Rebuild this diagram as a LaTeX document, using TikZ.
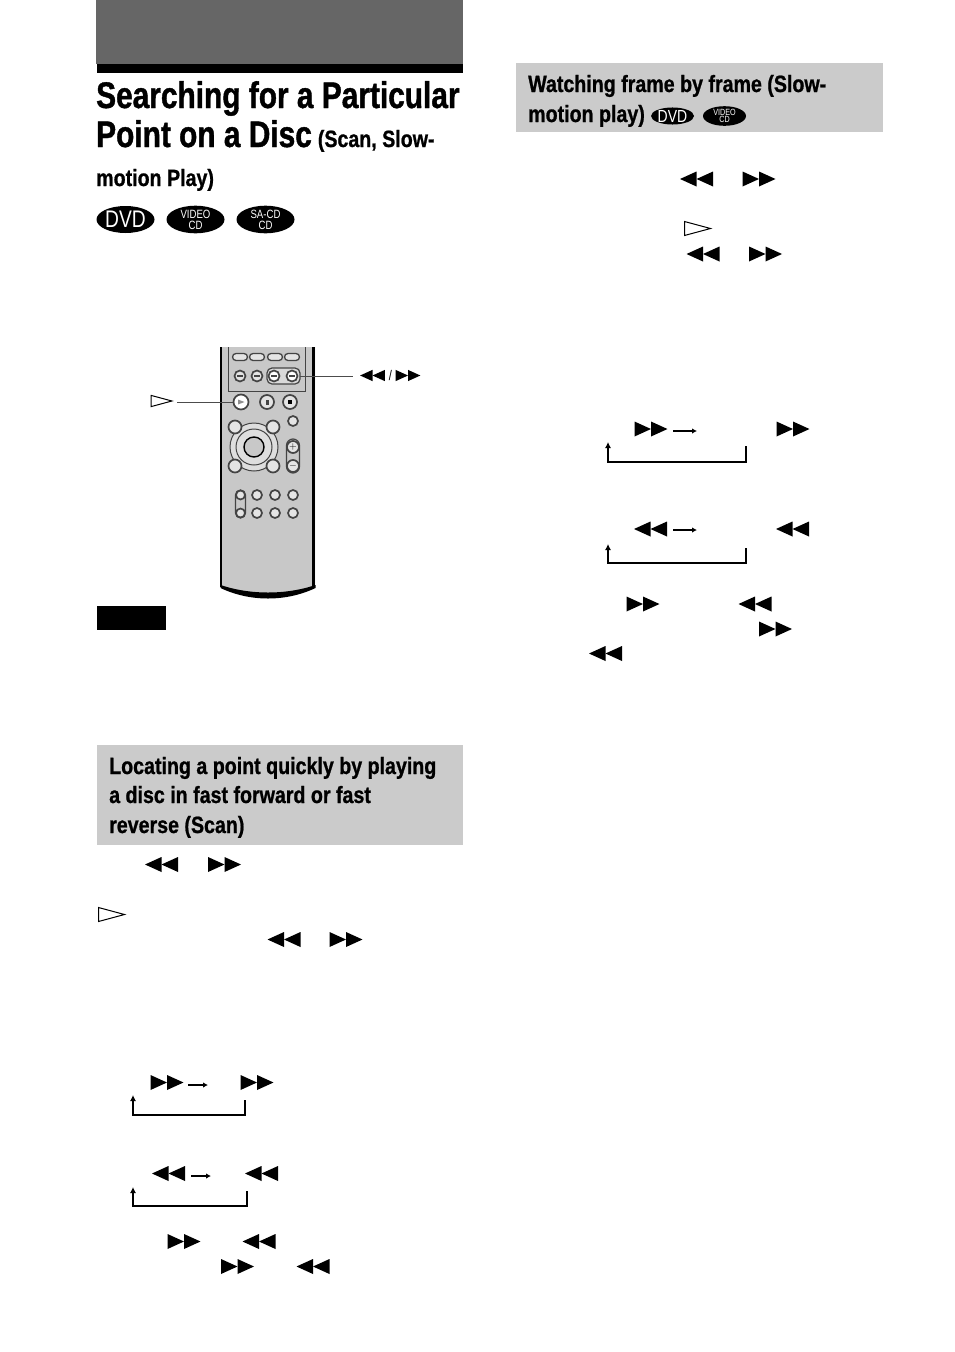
\documentclass[tikz,border=0pt]{standalone}
\usepackage{fontspec}
\usepackage{tikz}
\usetikzlibrary{arrows.meta,shapes.geometric}
\newfontfamily\headfont[UprightFont=* Bold,FakeStretch=.807,FakeBold=1.1]{Liberation Sans}
\newfontfamily\subfont[UprightFont=* Bold,FakeStretch=.835,FakeBold=.9]{Liberation Sans}
\newfontfamily\pillfont[FakeStretch=.8]{Liberation Sans}
\definecolor{bandgray}{HTML}{666666}
\definecolor{boxgray}{HTML}{CBCBCB}
\definecolor{bodygray}{HTML}{C8C8C8}
\definecolor{keygray}{HTML}{444444}
\tikzset{
  title/.style={anchor=base west,inner sep=0pt,font=\headfont\fontsize{37}{37}\selectfont},
  heading/.style={anchor=base west,inner sep=0pt,font=\subfont\fontsize{23.5}{23.5}\selectfont},
  pill/.style={ellipse,fill=black,text=white,inner sep=0pt,minimum width=#1,align=center,font=\pillfont},
  key/.style={circle,draw=keygray,line width=1.7pt,fill=bodygray!50!white,inner sep=0pt,minimum size=#1},
  flatkey/.style={rounded corners=3.5pt,draw=keygray,line width=1.3pt,fill=bodygray!50!white,minimum width=15pt,minimum height=7pt,inner sep=0pt},
  leader/.style={draw=black!70,line width=.8pt},
  loopline/.style={line width=1.1pt,-{Latex[length=6pt,width=6pt]}},
  stepline/.style={line width=1.2pt,-{Latex[length=5pt,width=5.5pt]}},
  ffmark/.pic={\fill (-16.5,-7.5) -- (0,0) -- (-16.5,7.5) -- cycle; \fill (0,-7.5) -- (16.5,0) -- (0,7.5) -- cycle;},
  rwmark/.pic={\fill (16.5,-7.5) -- (0,0) -- (16.5,7.5) -- cycle; \fill (0,-7.5) -- (-16.5,0) -- (0,7.5) -- cycle;},
  playmark/.pic={\draw[line width=1pt,fill=white] (-13,-7) -- (13,0) -- (-13,7) -- cycle;}
}
\begin{document}
\begin{tikzpicture}[x=1pt,y=-1pt]
  \useasboundingbox (0,0) rectangle (954,1352);
  % title block
  \fill[bandgray] (96,0) rectangle (463,64);
  \fill[black] (97,64) rectangle (463,73);
  \node[title] (titleone) at (96,108) {Searching for a Particular};
  \node[title] (titletwo) at (96,147) {Point on a Disc\hspace{6pt}{\subfont\fontsize{23.5}{23.5}\selectfont (Scan, Slow-}};
  \node[heading] (titlethree) at (96,186) {motion Play)};
  \node[pill=58pt,minimum height=27pt,font=\pillfont\fontsize{24}{24}\selectfont] (dvdpill) at (125.5,219.5) {DVD};
  \node[pill=58pt,minimum height=27pt,font=\pillfont\fontsize{12}{11}\selectfont] (videopill) at (195.5,219.5) {VIDEO\\CD};
  \node[pill=58pt,minimum height=27pt,font=\pillfont\fontsize{12}{11}\selectfont] (sacdpill) at (265.5,219.5) {SA-CD\\CD};
  % remote
  \fill[bodygray] (221,347) -- (221,587) .. controls (250,600) and (286,600) .. (315,587) -- (315,347) -- cycle;
  \draw[line width=1.8pt] (221,347) -- (221,587);
  \fill[black] (312,347) rectangle (315,587);
  \fill[black] (220.5,585) .. controls (250,595) and (286,595) .. (315.5,585) -- (315.5,588) .. controls (286,602) and (250,602) .. (220.5,588) -- cycle;
  \draw[draw=keygray,line width=.8pt] (228,347) -- (228,391) -- (305,391) -- (305,347);
  \node[flatkey] (keya) at (240,357) {};
  \node[flatkey] (keyb) at (257,357) {};
  \node[flatkey] (keyc) at (275,357) {};
  \node[flatkey] (keyd) at (292,357) {};
  \draw[draw=keygray,line width=1.2pt,rounded corners=5pt,fill=bodygray!70!white] (267,368) rectangle (300,384);
  \node[key=11pt] (skipback) at (240,376) {};
  \node[key=11pt] (skipnext) at (257,376) {};
  \node[key=11pt,fill=white] (rwkey) at (274,376) {};
  \node[key=11pt,fill=white] (ffkey) at (292,376) {};
  \foreach \cx in {240,257,274,292} \fill[keygray] (\cx-3,375) rectangle (\cx+3,377);
  \coordinate (ffpair) at (300,376);
  \node[key=15pt,fill=white] (playkey) at (241,402) {};
  \fill[keygray!60] (238,399.5) -- (244.5,402) -- (238,404.5) -- cycle;
  \node[key=14pt] (pausekey) at (267,402) {};
  \node[key=14pt] (stopkey) at (290,402) {};
  \fill[keygray] (265.5,399.5) rectangle (268.5,404.5);
  \fill[black] (288,400) rectangle (292,404);
  \node[key=10pt] (smallkey) at (293,421) {};
  \draw[draw=keygray,line width=1pt,fill=bodygray!60!white] (254,447) circle (24pt);
  \draw[draw=keygray,line width=1pt] (254,447) circle (18pt);
  \draw[black,line width=1.4pt,fill=bodygray] (254,447) circle (10pt);
  \foreach \cx/\cy in {235/427,273/427,235/466,273/466} \node[key=13pt] at (\cx,\cy) {};
  \draw[draw=keygray,line width=1.2pt,rounded corners=6.5pt] (286.5,439) rectangle (299.5,473);
  \node[key=12pt] (volup) at (293,447) {$+$};
  \node[key=12pt] (voldown) at (293,466) {$-$};
  \draw[draw=keygray,line width=1.2pt,rounded corners=5pt] (235.5,490) rectangle (245.5,518);
  \node[key=9pt] (chup) at (240.5,495) {};
  \node[key=9pt] (chdown) at (240.5,513) {};
  \foreach \cx in {257,275,293} {
    \node[key=10pt] at (\cx,495) {};
    \node[key=10pt] at (\cx,513) {};
  }
  % callouts
  \pic[scale=.8] at (161.5,401) {playmark};
  \coordinate (playfoot) at (177,402);
  \draw[leader] (playfoot) -- (playkey);
  \coordinate (ffcall) at (353,376);
  \draw[leader,line width=1pt] (ffpair) -- (ffcall);
  \pic[scale=.75] at (372.5,375.5) {rwmark};
  \node[inner sep=0pt,font=\pillfont\fontsize{14}{14}\selectfont] (slashmark) at (390.5,375.5) {/};
  \pic[scale=.75] at (408,375.5) {ffmark};
  \fill[black] (97,606) rectangle (166,630);
  % scan section
  \fill[boxgray] (97,745) rectangle (463,845);
  \node[heading] (scanone) at (109,774) {Locating a point quickly by playing};
  \node[heading] (scantwo) at (109,803) {a disc in fast forward or fast};
  \node[heading] (scanthree) at (109,833) {reverse (Scan)};
  \pic at (161.5,864.5) {rwmark};
  \pic at (224.5,864.5) {ffmark};
  \pic at (111.5,914.5) {playmark};
  \pic at (284,939.5) {rwmark};
  \pic at (346,939.5) {ffmark};
  \pic at (167,1082.5) {ffmark};
  \pic at (257,1082.5) {ffmark};
  \coordinate (scanfrom) at (188,1085);
  \coordinate (scanto) at (208,1085);
  \draw[stepline] (scanfrom) -- (scanto);
  \coordinate (scanloopa) at (245,1100);
  \coordinate (scanloopb) at (133,1095);
  \draw[loopline] (scanloopa) |- (133,1115) -- (scanloopb);
  \pic at (168.5,1173.5) {rwmark};
  \pic at (261.5,1173.5) {rwmark};
  \coordinate (backfrom) at (191,1176);
  \coordinate (backto) at (211,1176);
  \draw[stepline] (backfrom) -- (backto);
  \coordinate (backloopa) at (247,1191);
  \coordinate (backloopb) at (133,1187);
  \draw[loopline] (backloopa) |- (133,1206) -- (backloopb);
  \pic at (184,1241.5) {ffmark};
  \pic at (259,1241.5) {rwmark};
  \pic at (237.5,1266.5) {ffmark};
  \pic at (313,1266.5) {rwmark};
  % slow section
  \fill[boxgray] (516,63) rectangle (883,132);
  \node[heading] (slowone) at (528,92) {Watching frame by frame (Slow-};
  \node[heading] (slowtwo) at (528,122) {motion play)};
  \node[pill=43pt,minimum height=17pt,font=\pillfont\fontsize{17.5}{17.5}\selectfont] (slowdvd) at (672.5,116) {DVD};
  \node[pill=43pt,minimum height=17pt,font=\pillfont\fontsize{9}{7.5}\selectfont] (slowvideo) at (724.5,116) {VIDEO\\CD};
  \pic at (696.5,179) {rwmark};
  \pic at (759,179) {ffmark};
  \pic at (697.5,228.5) {playmark};
  \pic at (703,254) {rwmark};
  \pic at (765.5,254) {ffmark};
  \pic at (651,429) {ffmark};
  \pic at (793,429) {ffmark};
  \coordinate (slowfrom) at (673,431);
  \coordinate (slowto) at (697,431);
  \draw[stepline] (slowfrom) -- (slowto);
  \coordinate (slowloopa) at (746,446);
  \coordinate (slowloopb) at (608,442);
  \draw[loopline] (slowloopa) |- (608,462) -- (slowloopb);
  \pic at (650.5,529) {rwmark};
  \pic at (792.5,529) {rwmark};
  \coordinate (revfrom) at (673,530);
  \coordinate (revto) at (697,530);
  \draw[stepline] (revfrom) -- (revto);
  \coordinate (revloopa) at (746,548);
  \coordinate (revloopb) at (608,544);
  \draw[loopline] (revloopa) |- (608,563) -- (revloopb);
  \pic at (643,604) {ffmark};
  \pic at (755,604) {rwmark};
  \pic at (775.5,629) {ffmark};
  \pic at (605.5,653.5) {rwmark};
\end{tikzpicture}
\end{document}
